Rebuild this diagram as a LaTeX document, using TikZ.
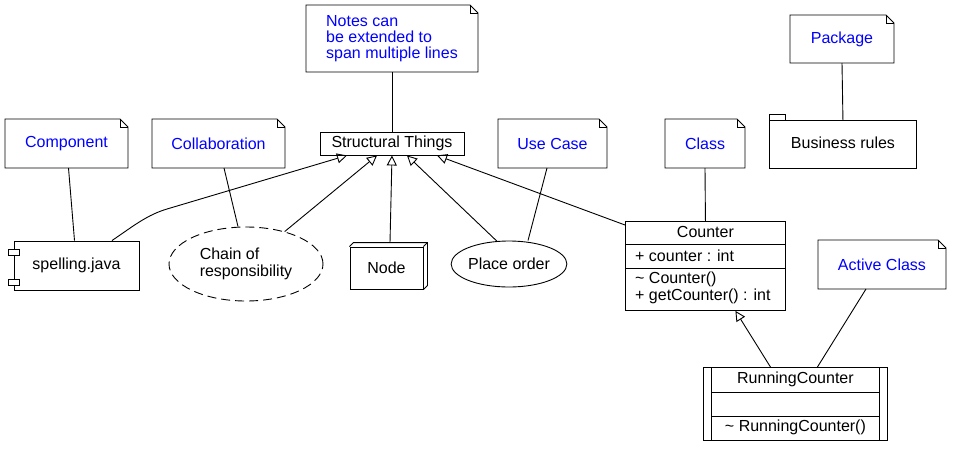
\documentclass[tikz,border=0pt]{standalone}
\usepackage{fontspec}
\setmainfont{Liberation Sans}
\usetikzlibrary{arrows.meta,shapes.geometric}
\tikzset{
  ln/.style={line width=0.9pt, draw=black},
  txt/.style={font=\fontsize{16}{16.5}\selectfont, text=black},
  bluetxt/.style={font=\fontsize{16}{16}\selectfont, text=blue},
  box/.style={draw=none, inner sep=0pt, outer sep=0pt},
  gen/.style={ln, -{Triangle[open,length=10pt,width=10pt]}},
  conn/.style={ln},
}
\newcommand{\umlnote}[6]{%
  \node[box, minimum width={#4-#2}, minimum height={#5-#3}] (#1) at ({(#2+#4)/2},{(#3+#5)/2}) {};
  \draw[ln, fill=white] (#1.north west) -- ([xshift=-8pt]#1.north east) -- ([yshift=-8pt]#1.north east) -- (#1.south east) -- (#1.south west) -- cycle;
  \draw[ln] ([xshift=-8pt]#1.north east) -- ([xshift=-8pt,yshift=-8pt]#1.north east) -- ([yshift=-8pt]#1.north east);
  \node[bluetxt, align=left] (#1-t) at ([yshift=0pt]#1.center) {#6};
}
\begin{document}
\begin{tikzpicture}[x=1pt,y=-1pt]
\fill[white] (0,0) rectangle (953,451);
\useasboundingbox (0,0) rectangle (953,451);

% notes
\umlnote{notes}{306}{5}{478}{72}{Notes can\\be extended to\\span multiple lines}
\umlnote{compnote}{5}{119}{128}{168}{Component}
\umlnote{collabnote}{152}{119}{285}{168}{Collaboration}
\umlnote{ucnote}{498}{119}{607}{168}{Use Case}
\umlnote{classnote}{665}{119}{745}{168}{Class}
\umlnote{pkgnote}{790}{15}{894}{63}{Package}
\umlnote{acnote}{818}{240}{946}{289}{Active Class}

% structural things
\node[draw, ln, minimum width=144, minimum height=23, inner sep=0pt, txt] (st) at (392,143.5) {Structural Things};

% component
\node[draw, ln, fill=white, minimum width=125, minimum height=49, inner sep=0pt, txt] (spell) at (76.5,265.5) {spelling.java};
\draw[ln, fill=white] ([xshift=-5pt,yshift=-9pt]spell.north west) rectangle ++(11pt,-6pt);
\draw[ln, fill=white] ([xshift=-5pt,yshift=-39pt]spell.north west) rectangle ++(11pt,-6pt);

% collaboration
\node[ellipse, draw, ln, dash pattern=on 9pt off 5pt, minimum width=154, minimum height=74, inner sep=0pt, txt, align=left] (chain) at (246,264) {Chain of\\responsibility};

% node (3D)
\node[draw, ln, minimum width=73, minimum height=42, inner sep=0pt, txt] (nd) at (386.5,268) {Node};
\draw[ln] (nd.north west) -- ++(4pt,4pt) -- ([shift={(4pt,4pt)}]nd.north east) -- ([shift={(4pt,4pt)}]nd.south east) -- (nd.south east);
\draw[ln] (nd.north east) -- ++(4pt,4pt);

% use case
\node[ellipse, draw, ln, minimum width=114, minimum height=46, inner sep=0pt, txt] (po) at (509,264) {Place order};

% class Counter
\node[draw, ln, minimum width=160, minimum height=89, inner sep=0pt, anchor=north west] (counter) at (625,221) {};
\draw[ln] ([yshift=-23pt]counter.north west) -- ([yshift=-23pt]counter.north east);
\draw[ln] ([yshift=-47pt]counter.north west) -- ([yshift=-47pt]counter.north east);
\node[txt] (countername) at ([yshift=-11pt]counter.north) {Counter};
\node[txt, anchor=west, inner sep=0pt] (counterattr) at ([xshift=10pt,yshift=-35pt]counter.north west) {+ counter : int};
\node[txt, anchor=west, inner sep=0pt, align=left, font=\fontsize{16}{17}\selectfont] (counterops) at ([xshift=10pt,yshift=-67pt]counter.north west) {\textasciitilde{} Counter()\\+ getCounter() : int};

% active class RunningCounter
\node[draw, ln, minimum width=184, minimum height=73, inner sep=0pt, anchor=north west] (rc) at (703,367) {};
\draw[ln] ([xshift=8pt]rc.north west) -- ([xshift=8pt]rc.south west);
\draw[ln] ([xshift=-8pt]rc.north east) -- ([xshift=-8pt]rc.south east);
\draw[ln] ([xshift=8pt,yshift=-25pt]rc.north west) -- ([xshift=-8pt,yshift=-25pt]rc.north east);
\draw[ln] ([xshift=8pt,yshift=-49pt]rc.north west) -- ([xshift=-8pt,yshift=-49pt]rc.north east);
\node[txt] (rcname) at ([yshift=-12pt]rc.north) {RunningCounter};
\node[txt] (rcops) at ([yshift=-60pt]rc.north) {\textasciitilde{} RunningCounter()};

% package
\node[draw, ln, minimum width=147, minimum height=48, inner sep=0pt, txt, anchor=north west] (br) at (769,120) {};
\node[txt] (brtext) at ([yshift=2pt]br.center) {Business rules};
\draw[ln] (br.north west) rectangle ([xshift=16pt,yshift=6pt]br.north west);

% connectors
\draw[conn] (notes.south) -- (st.north);
\draw[conn] ([xshift=2pt]compnote.south) -- ([xshift=-2pt]spell.north);
\draw[conn] ([xshift=5.5pt]collabnote.south) -- ([xshift=-8pt]chain.north);
\draw[conn] ([xshift=-5.5pt]ucnote.south) -- ([xshift=19pt]po.north);
\draw[conn] (classnote.south) -- (counter.north);
\draw[conn] (pkgnote.south) -- (br.north);
\draw[conn] ([xshift=-16pt]acnote.south) -- ([xshift=22pt]rc.north);
\draw[gen] ([xshift=-25pt]rc.north) -- ([xshift=30pt]counter.south);

\coordinate (bend) at (167,209);
\draw[gen] ([xshift=35.5pt]spell.north) .. controls +(22pt,15pt) and +(-20pt,-6pt) .. (bend) -- ([xshift=-45pt]st.south);
\draw[gen] (chain.40) -- ([xshift=-15pt]st.south);
\draw[gen] ([shift={(3.5pt,4pt)}]nd.north) -- (st.south);
\draw[gen] (po.118) -- ([xshift=15pt]st.south);
\draw[gen] ([yshift=-4pt]counter.north west) -- ([xshift=45pt]st.south);
\end{tikzpicture}
\end{document}
